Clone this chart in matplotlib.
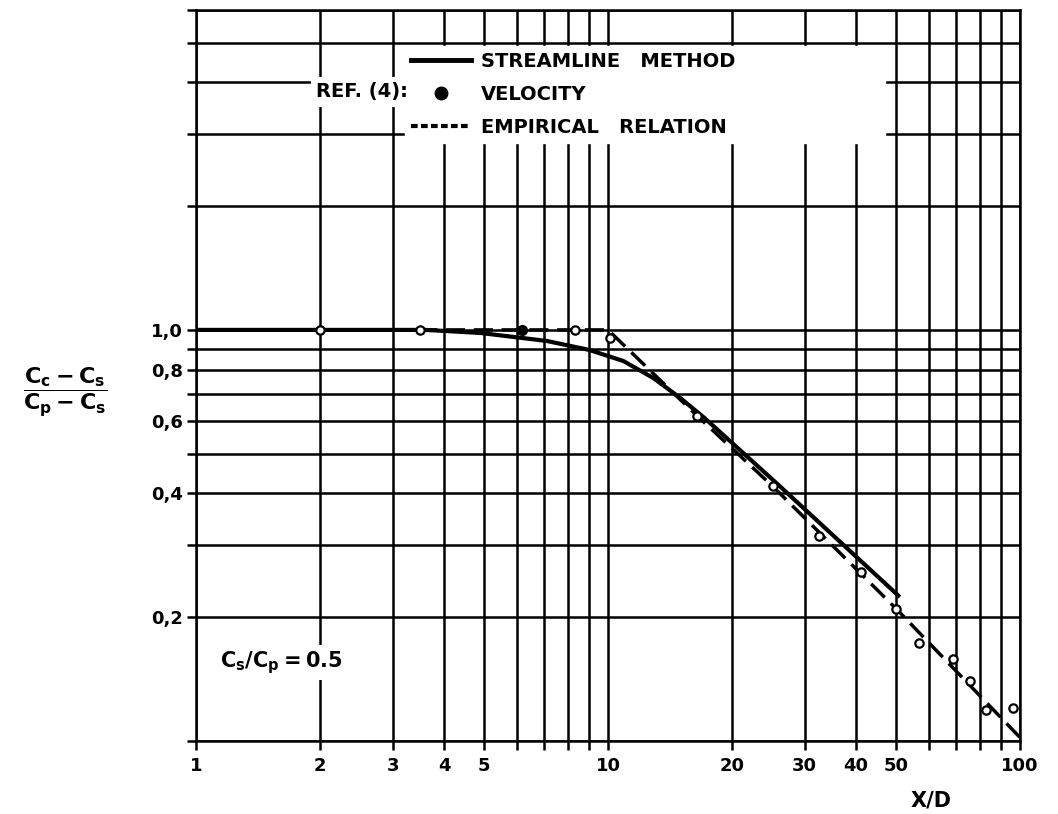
import matplotlib
matplotlib.use('Agg')
import matplotlib.pyplot as plt
from matplotlib.lines import Line2D
from matplotlib.ticker import NullLocator

plt.rcParams['font.family'] = ['DejaVu Sans']
plt.rcParams['font.weight'] = 'bold'
plt.rcParams['mathtext.default'] = 'bf'

# streamline method (solid curve)
stream_x = [1.0, 3.6, 4.9, 7.1, 9.0, 10.9, 12.9, 15.0, 17.2, 25.7, 51.1]
stream_y = [1.0, 1.0, 0.983, 0.94, 0.894, 0.84, 0.763, 0.682, 0.609, 0.423, 0.224]

# empirical relation (dashed)
emp_x = [1.0, 10.0, 16.4, 25.2, 50.0, 100.0]
emp_y = [1.0, 1.0, 0.62, 0.415, 0.21, 0.102]

# ref. (4) velocity measurements
vel_x = [2.0, 3.5, 6.2, 8.3, 10.1, 16.4, 25.2, 32.5, 41.1, 50.0, 56.9, 68.8, 75.6, 82.7, 96.2]
vel_y = [1.0, 1.0, 1.0, 1.0, 0.955, 0.616, 0.416, 0.315, 0.258, 0.21, 0.173, 0.158, 0.14, 0.119, 0.1205]
vel_filled = [False, False, True, False, False, False, False, False, False, False, False, False, False, False, False]

x_ticks = [1, 2, 3, 4, 5, 6, 7, 8, 9, 10, 20, 30, 40, 50, 60, 70, 80, 90, 100]
x_tick_labels = ['1', '2', '3', '4', '5', '', '', '', '', '10', '20', '30', '40', '50', '', '', '', '', '100']
y_ticks = [0.1, 0.2, 0.3, 0.4, 0.5, 0.6, 0.7, 0.8, 0.9, 1, 2, 3, 4, 5, 6]
y_tick_labels = ['', '0,2', '', '0,4', '', '0,6', '', '0,8', '', '1,0', '', '', '', '', '']

fig = plt.figure(figsize=(10.58, 8.14), dpi=100)
ax = fig.add_axes([196 / 1058, 1 - 741 / 814, 824 / 1058, 731 / 814])
ax.set_xscale('log')
ax.set_yscale('log')
ax.set_xlim(1, 100)
ax.set_ylim(0.1, 6.0)

ax.set_xticks(x_ticks)
ax.set_xticklabels(x_tick_labels)
ax.set_yticks(y_ticks)
ax.set_yticklabels(y_tick_labels)
ax.xaxis.set_minor_locator(NullLocator())
ax.yaxis.set_minor_locator(NullLocator())
ax.tick_params(axis='both', direction='out', length=6.5, width=1.8, labelsize=13)
ax.tick_params(axis='x', pad=5)
ax.tick_params(axis='y', pad=3)
ax.grid(True, which='major', color='black', lw=1.8)
ax.set_axisbelow(True)
for sp in ax.spines.values():
    sp.set_linewidth(1.8)

ax.plot(stream_x, stream_y, color='black', lw=3, solid_capstyle='butt', zorder=3)
ax.plot(emp_x, emp_y, color='black', lw=2.5, dashes=(5.5, 2.5), zorder=3)

open_x = [x for x, f in zip(vel_x, vel_filled) if not f]
open_y = [y for y, f in zip(vel_y, vel_filled) if not f]
full_x = [x for x, f in zip(vel_x, vel_filled) if f]
full_y = [y for y, f in zip(vel_y, vel_filled) if f]
ax.plot(open_x, open_y, 'o', ms=6, mfc='white', mec='black', mew=1.6, zorder=4)
ax.plot(full_x, full_y, 'o', ms=7, color='black', zorder=4)

handles = [
    Line2D([], [], color='black', lw=3.5),
    Line2D([], [], marker='o', ls='none', color='black', ms=9),
    Line2D([], [], color='black', lw=3, dashes=(1.6, 0.8)),
]
labels = ['STREAMLINE   METHOD', 'VELOCITY', 'EMPIRICAL   RELATION']
leg = ax.legend(handles, labels, loc='upper left',
                bbox_to_anchor=(0.2536, 0.9508, 0.583, 0.0), mode='expand',
                borderaxespad=0, borderpad=0.3, handlelength=3.1,
                handletextpad=0.5, labelspacing=0.73, fontsize=14,
                frameon=True, fancybox=False, framealpha=1,
                facecolor='white', edgecolor='white')
leg.set_zorder(6)

ax.text(0.2573, 0.888, 'REF. (4):', transform=ax.transAxes, ha='right', va='center',
        fontsize=14, fontweight='bold', zorder=7,
        bbox=dict(facecolor='white', edgecolor='none', pad=4))

ax.text(0.029, 0.107, r'$C_s/C_p = 0.5$', transform=ax.transAxes, ha='left', va='center',
        fontsize=15, zorder=5,
        bbox=dict(facecolor='white', edgecolor='none', pad=3))

fig.text(931 / 1058, 1 - 800 / 814, 'X/D', ha='center', va='center',
         fontsize=15, fontweight='bold')
fig.text(65 / 1058, 1 - 392 / 814, r'$\dfrac{C_c - C_s}{C_p - C_s}$',
         ha='center', va='center', fontsize=16)

fig.savefig('out.png', dpi=100)
